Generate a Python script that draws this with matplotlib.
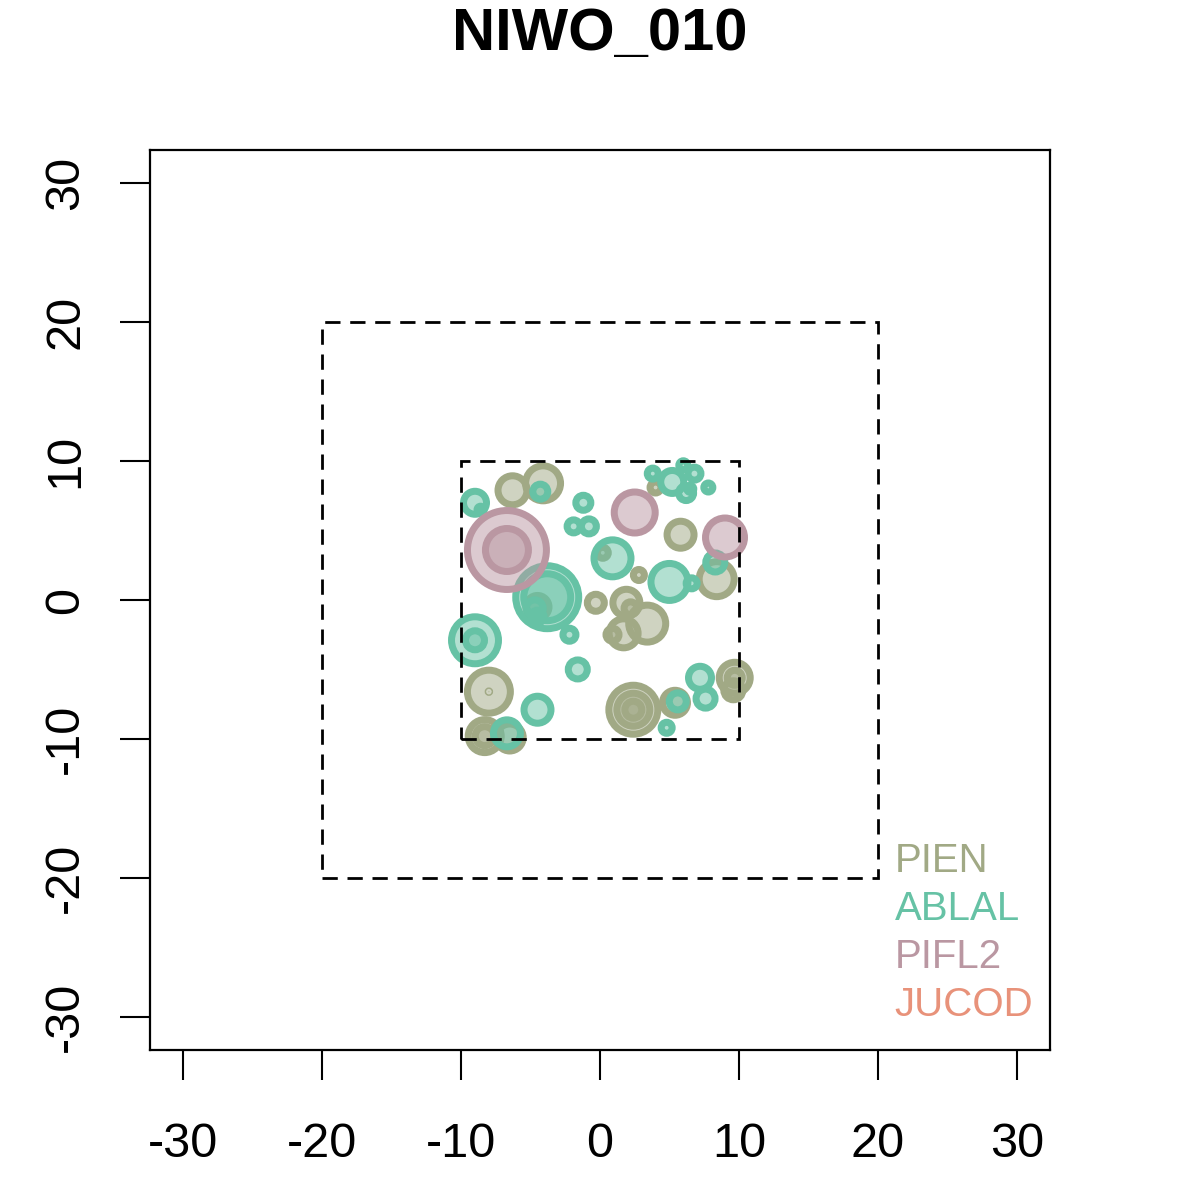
import matplotlib
matplotlib.use("Agg")
import matplotlib.pyplot as plt
from matplotlib.patches import Circle, Rectangle

title = "NIWO_010"
species = ["PIEN", "ABLAL", "PIFL2", "JUCOD"]
colors = ["#A1A985", "#66C2A5", "#BA97A2", "#E8927A"]

# trees: species, x, y, outer radius (pixels at 13.9 px/unit)
tree_sp = (["PIEN"] * 26 + ["ABLAL"] * 31 + ["PIFL2"] * 4)
tree_x = [-6.3, -4.1, 5.8, 8.4, 0.2, 2.8, -0.3, 1.9, 3.4, 1.7, 0.9, 2.2, -4.5,
          2.4, 2.4, 5.4, 9.7, 9.6, -8.0, -8.0, -8.3, -8.3, -6.5, 4.0, 2.4, 9.7,
          -9.0, -8.6, -4.3, -1.2, -1.9, -0.8, 3.8, 5.2, 6.0, 6.8, 6.2, 7.8, 6.5,
          0.9, 8.3, 5.0, 6.6, -3.8, -3.8, -4.7, -4.5, -2.2, -9.0, -9.0, -1.6,
          -4.5, -6.7, 7.2, 7.6, 5.6, 4.8,
          -6.7, -6.7, 2.5, 9.0]
tree_y = [7.9, 8.4, 4.7, 1.5, 3.4, 1.8, -0.2, -0.2, -1.7, -2.4, -2.5, -0.6, -0.5,
          -7.9, -7.9, -7.4, -5.6, -6.5, -6.6, -6.6, -9.8, -9.8, -9.9, 8.1, -7.9, -5.6,
          7.0, 6.5, 7.8, 7.0, 5.3, 5.3, 9.1, 8.5, 9.7, 9.1, 7.7, 8.1, 8.0,
          3.0, 2.7, 1.3, 1.2, 0.2, 0.2, -0.6, -1.2, -2.5, -2.9, -2.9, -5.0,
          -7.9, -9.6, -5.6, -7.1, -7.3, -9.2,
          3.6, 3.6, 6.3, 4.5]
tree_r = [18, 21, 17, 21, 9, 9, 12, 17, 22, 18, 10, 10, 15,
          28, 20, 16, 19, 13, 25, 4, 20, 13, 17, 9, 12, 11,
          15, 7, 11, 11, 10, 11, 9, 15, 8, 10, 11, 8, 7,
          22, 13, 22, 9, 35, 27, 12, 10, 10, 27, 13, 13,
          17, 17, 15, 13, 12, 9,
          43, 25, 24, 23]

PX = 13.9
fig = plt.figure(figsize=(12, 12), dpi=100)
ax = fig.add_axes([0.125, 0.125, 0.75, 0.75])
ax.set_xlim(-32.4, 32.4)
ax.set_ylim(-32.4, 32.4)
ax.set_aspect("equal", adjustable="box")

col_of = dict(zip(species, colors))
lw_px = 7
for s, x, y, r in zip(tree_sp, tree_x, tree_y, tree_r):
    c = col_of[s]
    rr = max((r - lw_px / 2) / PX, 0.05)
    ax.add_patch(Circle((x, y), rr, facecolor=c, alpha=0.5, edgecolor="none", zorder=2))
    ax.add_patch(Circle((x, y), rr, facecolor="none", edgecolor=c,
                        linewidth=lw_px * 0.72, zorder=2))

for h in (10, 20):
    ax.add_patch(Rectangle((-h, -h), 2 * h, 2 * h, fill=False, edgecolor="black",
                           linewidth=2.0, linestyle=(0, (5.5, 3.5)), zorder=3))

for i, (s, c) in enumerate(zip(species, colors)):
    ax.text(21.2, -18.8 - i * 3.45, s, color=c, fontsize=29, family="Liberation Sans",
            ha="left", va="center")

ticks = [-30, -20, -10, 0, 10, 20, 30]
ax.set_xticks(ticks)
ax.set_yticks(ticks)
ax.set_xticklabels([str(t) for t in ticks], fontsize=35, family="Liberation Sans")
ax.set_yticklabels([str(t) for t in ticks], fontsize=35, family="Liberation Sans",
                   rotation=90, va="center")
ax.tick_params(axis="both", length=21.6, width=1.5, direction="out")
ax.tick_params(axis="x", pad=30)
ax.tick_params(axis="y", pad=23)
for sp in ax.spines.values():
    sp.set_linewidth(1.6)

fig.text(0.5, 0.971, title, fontsize=43, fontweight="bold", family="Liberation Sans",
         ha="center", va="center")

fig.savefig("out.png", dpi=100)
